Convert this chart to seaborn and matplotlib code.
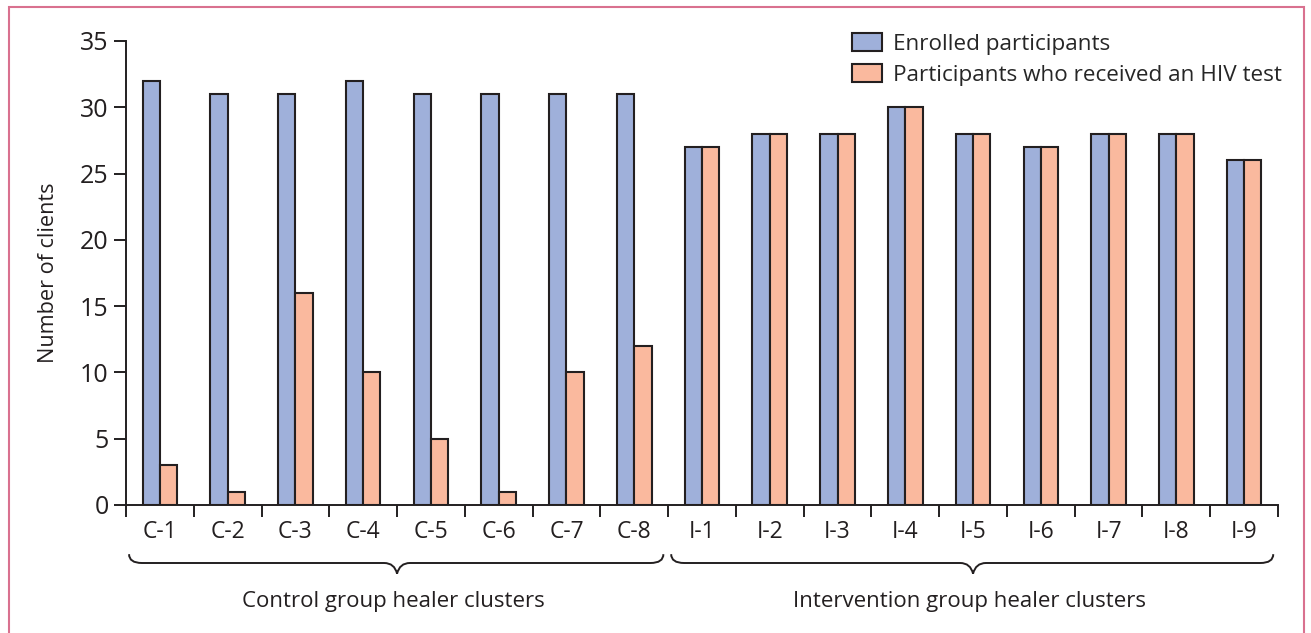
import numpy as np
import pandas as pd
import matplotlib.pyplot as plt
import matplotlib.transforms as mtransforms
from matplotlib.path import Path
from matplotlib.patches import PathPatch, Rectangle
import seaborn as sns

sns.set_theme(style='ticks')
plt.rcParams['font.family'] = ['Open Sans', 'DejaVu Sans']

# data
clusters = ['C-1', 'C-2', 'C-3', 'C-4', 'C-5', 'C-6', 'C-7', 'C-8',
            'I-1', 'I-2', 'I-3', 'I-4', 'I-5', 'I-6', 'I-7', 'I-8', 'I-9']
enrolled = [32, 31, 31, 32, 31, 31, 31, 31, 27, 28, 28, 30, 28, 27, 28, 28, 26]
tested = [3, 1, 16, 10, 5, 1, 10, 12, 27, 28, 28, 30, 28, 27, 28, 28, 26]
series_names = ['Enrolled participants', 'Participants who received an HIV test']
group_labels = ['Control group healer clusters', 'Intervention group healer clusters']
group_first = [0, 8]
group_last = [7, 16]

ink = '#231F20'
colors = ['#9FB0DA', '#FAB99E']

df = pd.DataFrame({
    'cluster': clusters * 2,
    'series': [series_names[0]] * len(clusters) + [series_names[1]] * len(clusters),
    'value': enrolled + tested,
})

fig = plt.figure(figsize=(13.11, 6.33), dpi=100)
ax = fig.add_axes([126 / 1311, 128 / 633, 1152 / 1311, 464 / 633])

sns.barplot(data=df, x='cluster', y='value', hue='series', palette=colors,
            width=0.51, saturation=1, edgecolor=ink, linewidth=1.5, ax=ax)

ax.set_xlim(-0.5, len(clusters) - 0.5)
ax.set_ylim(0, 35)
ax.set_yticks(range(0, 36, 5))
ax.set_xlabel('')
ax.set_ylabel('Number of clients', fontsize=15.6, color=ink)
ax.yaxis.set_label_coords(-0.058, 0.5)

ax.set_xticks(np.arange(-0.5, len(clusters), 1), minor=True)
ax.tick_params(axis='x', which='major', length=0, pad=11, labelsize=16.5, labelcolor=ink)
ax.tick_params(axis='x', which='minor', length=8.6, width=1.4, color=ink)
ax.tick_params(axis='y', length=8.6, width=1.4, color=ink, pad=4, labelsize=18, labelcolor=ink)

sns.despine(ax=ax)
for side in ['left', 'bottom']:
    ax.spines[side].set_linewidth(1.4)
    ax.spines[side].set_color(ink)

sns.move_legend(ax, loc='upper left', bbox_to_anchor=(852 / 1311, 1 - 33 / 633),
                bbox_transform=fig.transFigure, frameon=False, title=None,
                fontsize=16.2, handlelength=1.33, handleheight=0.85,
                handletextpad=0.5, labelspacing=0.4, borderpad=0,
                borderaxespad=0)

# curly braces under the cluster groups
trans = mtransforms.blended_transform_factory(ax.transData, ax.transAxes)
y_top, y_mid, y_tip = -0.106, -0.125, -0.148
r = 0.19
for first, last, label in zip(group_first, group_last, group_labels):
    x0 = first - 0.455
    x1 = last + 0.43
    xc = (first + last) / 2
    verts = [(x0, y_top), (x0, y_mid), (x0 + r, y_mid),
             (xc - r, y_mid),
             (xc - 0.2 * r, y_mid), (xc, y_tip),
             (xc + 0.2 * r, y_mid), (xc + r, y_mid),
             (x1 - r, y_mid),
             (x1, y_mid), (x1, y_top)]
    codes = [Path.MOVETO, Path.CURVE3, Path.CURVE3, Path.LINETO,
             Path.CURVE3, Path.CURVE3, Path.CURVE3, Path.CURVE3,
             Path.LINETO, Path.CURVE3, Path.CURVE3]
    ax.add_patch(PathPatch(Path(verts, codes), facecolor='none', edgecolor=ink,
                           lw=1.4, transform=trans, clip_on=False))
    ax.text(xc - 0.05, -0.208, label, transform=trans, ha='center', va='center',
            fontsize=16, color=ink)

# pink frame round the figure
fig.patches.append(Rectangle((9 / 1311, -0.05), 1295 / 1311, 1.05 - 7 / 633,
                             transform=fig.transFigure, facecolor='none',
                             edgecolor='#D9718F', lw=1.5))

fig.savefig('out.png', dpi=100)
